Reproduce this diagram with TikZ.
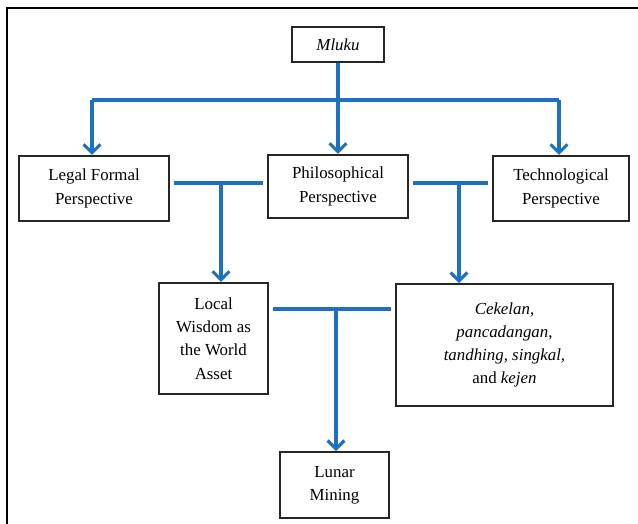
\documentclass[tikz,border=0pt]{standalone}
\usepackage{fontspec}
\setmainfont{Liberation Serif}
\usetikzlibrary{arrows.meta}
\definecolor{linkblue}{RGB}{30,112,192}

\begin{document}
\begin{tikzpicture}[x=0.025cm,y=-0.025cm,
  box/.style={draw=black!85,line width=1.3pt,align=center,inner sep=2pt,font=\fontsize{12}{16.5}\selectfont},
  link/.style={draw=linkblue,line width=2.2pt,line join=round},
  flow/.style={link,-{Straight Barb[length=6pt,width=12pt,line join=miter]}}]
\useasboundingbox (0,0) rectangle (638,524);
\draw[line width=1.5pt] (7,524) -- (7,8) -- (638,8);
% boxes
\node[box,minimum width=2.28cm,minimum height=0.88cm] (mluku) at (338,44.5) {\textit{Mluku}};
\node[box,minimum width=3.75cm,minimum height=1.63cm] (legal) at (94,188.5) {Legal Formal\\Perspective};
\node[box,minimum width=3.48cm,minimum height=1.58cm] (philo) at (338,186.5) {Philosophical\\Perspective};
\node[box,minimum width=3.4cm,minimum height=1.63cm] (tech) at (561,188.5) {Technological\\Perspective};
\node[box,minimum width=2.73cm,minimum height=2.78cm] (wisdom) at (213.5,338.5) {Local\\Wisdom as\\the World\\Asset};
\node[box,minimum width=5.43cm,minimum height=3.05cm] (cekelan) at (504.5,345) {\textit{Cekelan,}\\\textit{pancadangan,}\\\textit{tandhing, singkal,}\\and \textit{kejen}};
\node[box,minimum width=2.73cm,minimum height=1.65cm] (lunar) at (334.5,485) {Lunar\\Mining};
% junction points
\coordinate (bus) at (338,100);
\coordinate (busL) at (92,100);
\coordinate (busR) at (559,100);
\coordinate (j1) at (221,183);
\coordinate (j2) at (459,183);
\coordinate (j3) at (336,309);
% connectors
\draw[link] (busL) -- (busR);
\draw[flow] (mluku.south) -- (philo.north);
\draw[flow] (busL) -- (busL |- legal.north);
\draw[flow] (busR) -- (busR |- tech.north);
\draw[link,shorten <=3pt,shorten >=3pt] (legal.east |- j1) -- (philo.west |- j1);
\draw[flow] (j1) -- (j1 |- wisdom.north);
\draw[link,shorten <=3pt,shorten >=3pt] (philo.east |- j2) -- (tech.west |- j2);
\draw[flow] (j2) -- (j2 |- cekelan.north);
\draw[link,shorten <=3pt,shorten >=3pt] (wisdom.east |- j3) -- (cekelan.west |- j3);
\draw[flow] (j3) -- (j3 |- lunar.north);
\end{tikzpicture}
\end{document}
